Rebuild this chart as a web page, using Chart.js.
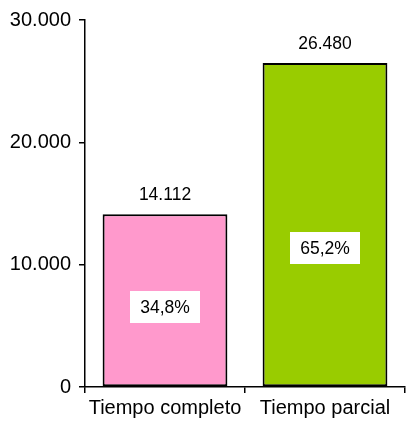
<!DOCTYPE html>
<html>
<head>
<meta charset="utf-8">
<script src="https://cdn.jsdelivr.net/npm/chart.js@4/dist/chart.umd.min.js"></script>
<style>
  html, body { margin: 0; padding: 0; background: #fff; }
  #wrap { width: 408px; height: 426px; }
</style>
</head>
<body>
<div id="wrap"><canvas id="chart" width="408" height="426"></canvas></div>
<script>
const categories = ['Tiempo completo', 'Tiempo parcial']
const values = [14112, 26480]
const barColors = ['#FF99CC', '#99CC00']
// where the percentage boxes sit, in axis units
const pctLabelAt = [6560, 11330]
const yTicks = [0, 10000, 20000, 30000]

const total = values.reduce((a, b) => a + b, 0)
const pctLabels = values.map(v => (v / total * 100).toFixed(1).replace('.', ',') + '%')

function fmt(n) {
    return String(n).replace(/\B(?=(\d{3})+(?!\d))/g, '.')
}

const FONT = '"Liberation Sans", Arial, sans-serif'

const labelPlugin = {
    id: 'barLabels',
    afterDatasetsDraw(chart) {
        const ctx = chart.ctx
        const meta = chart.getDatasetMeta(0)
        const y = chart.scales.y
        ctx.save()
        meta.data.forEach((bar, i) => {
            // value above bar
            ctx.font = '17.5px ' + FONT
            ctx.fillStyle = '#000'
            ctx.textAlign = 'center'
            ctx.textBaseline = 'alphabetic'
            ctx.fillText(fmt(values[i]), bar.x, bar.y - 14)

            // percentage box inside bar
            const py = y.getPixelForValue(pctLabelAt[i])
            const w = ctx.measureText(pctLabels[i]).width + 20
            const h = 32
            ctx.fillStyle = '#fff'
            ctx.fillRect(Math.round(bar.x - w / 2), Math.round(py - h / 2), Math.round(w), h)
            ctx.fillStyle = '#000'
            ctx.textBaseline = 'middle'
            ctx.fillText(pctLabels[i], bar.x, py + 1)
        })
        ctx.restore()
    }
}

new Chart(document.getElementById('chart'), {
    type: 'bar',
    data: {
        labels: categories,
        datasets: [{
            data: values,
            backgroundColor: barColors,
            borderColor: '#000',
            borderWidth: 2,
            borderSkipped: false,
            categoryPercentage: 1,
            barPercentage: 0.78
        }]
    },
    options: {
        responsive: false,
        animation: false,
        layout: { padding: { top: 9, right: 3, left: 0, bottom: 0 } },
        plugins: {
            legend: { display: false },
            tooltip: { enabled: false }
        },
        scales: {
            y: {
                min: 0,
                max: 30000,
                afterBuildTicks(scale) {
                    scale.ticks = yTicks.map(v => ({ value: v }))
                },
                afterFit(scale) { scale.width = 85 },
                border: { display: true, color: '#000', width: 1.5 },
                grid: { drawOnChartArea: false, color: '#000', tickLength: 6, lineWidth: 1.5 },
                ticks: {
                    color: '#000',
                    padding: 8,
                    font: { family: FONT, size: 20 },
                    callback: v => fmt(v)
                }
            },
            x: {
                afterFit(scale) { scale.height = 39 },
                border: { display: true, color: '#000', width: 1.5 },
                grid: { drawOnChartArea: false, color: '#000', tickLength: 6, lineWidth: 1.5, offset: true },
                ticks: {
                    color: '#000',
                    padding: 3,
                    font: { family: FONT, size: 20 }
                }
            }
        }
    },
    plugins: [labelPlugin]
})
</script>
</body>
</html>
